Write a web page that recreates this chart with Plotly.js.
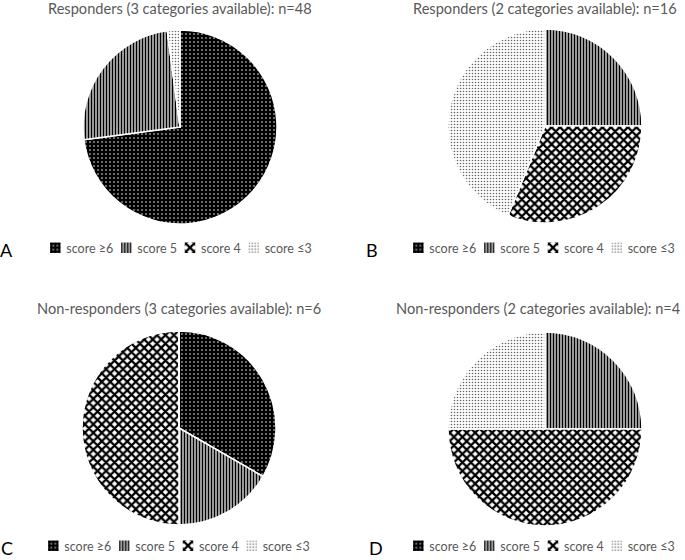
<!DOCTYPE html>
<html><head><meta charset="utf-8">
<script src="https://cdn.plot.ly/plotly-3.0.1.min.js"></script>
<style>html,body{margin:0;padding:0;background:#fff}</style>
</head><body><div id="chart" style="width:685px;height:560px"></div>
<script>
const categories = ['score \u22656', 'score 5', 'score 4', 'score \u22643'];
const responders3 = [35, 12, 0, 1];
const responders2 = [0, 4, 5, 7];
const nonResponders3 = [2, 1, 3, 0];
const nonResponders2 = [0, 1, 2, 1];
const panelTitles = [
  'Responders (3 categories available): n=48',
  'Responders (2 categories available): n=16',
  'Non-responders (3 categories available): n=6',
  'Non-responders (2 categories available): n=4'
];
const panelLetters = ['A', 'B', 'C', 'D'];

const patShape = ['.', '|', 'x', '.'];
const patBg = ['#000000', '#ffffff', '#ffffff', '#ffffff'];
const patFg = ['#ffffff', '#000000', '#000000', '#666666'];
const patSize = [4, 3, 6, 3];
const patSolid = [0.12, 0.6, 0.6, 0.22];

const values = [responders3, responders2, nonResponders3, nonResponders2];
const domains = [
  {x: [0.1212, 0.4044], y: [0.600, 0.9464]},
  {x: [0.6540, 0.9372], y: [0.6018, 0.9482]},
  {x: [0.1197, 0.4029], y: [0.0625, 0.4089]},
  {x: [0.6540, 0.9372], y: [0.0607, 0.4071]}
];
const legendNames = ['legend', 'legend2', 'legend3', 'legend4'];

const traces = values.map((v, k) => ({
  type: 'pie',
  labels: categories,
  values: v,
  sort: false,
  direction: 'clockwise',
  rotation: 0,
  textinfo: 'none',
  hoverinfo: 'label+value+percent',
  domain: domains[k],
  legend: legendNames[k],
  legendgroup: 'g' + k,
  showlegend: true,
  marker: {
    colors: patBg,
    line: {color: '#ffffff', width: 1.5},
    pattern: {shape: patShape, bgcolor: patBg, fgcolor: patFg, size: patSize, solidity: patSolid, fillmode: 'replace'}
  }
}));

const grey = '#595959';
const fam = 'Lato, "Open Sans", sans-serif';
const titleFont = {family: fam, size: 14.6, color: grey};
const titlePos = [[180, 9], [545, 9], [179, 308], [538, 308]];
const letterPos = [[6, 250], [372, 250], [7, 548], [376, 548]];
const annotations = [];
panelTitles.forEach((t, k) => annotations.push({
  text: t, xref: 'paper', yref: 'paper', x: titlePos[k][0] / 685, y: 1 - titlePos[k][1] / 560,
  xanchor: 'center', yanchor: 'middle', showarrow: false, font: titleFont
}));
panelLetters.forEach((t, k) => annotations.push({
  text: t, xref: 'paper', yref: 'paper', x: letterPos[k][0] / 685, y: 1 - letterPos[k][1] / 560,
  xanchor: 'center', yanchor: 'middle', showarrow: false,
  font: {family: fam, size: 18, color: '#000'}
}));

const legendFont = {family: fam, size: 12.5, color: grey};
const legendPos = [[180, 248], [543, 248], [178, 546], [543, 546]];
const layout = {
  width: 685, height: 560,
  margin: {l: 0, r: 0, t: 0, b: 0, pad: 0, autoexpand: false},
  paper_bgcolor: '#ffffff',
  annotations: annotations
};
legendNames.forEach((n, k) => {
  layout[n] = {
    orientation: 'h', x: legendPos[k][0] / 685, y: 1 - legendPos[k][1] / 560,
    xanchor: 'center', yanchor: 'middle', font: legendFont, itemwidth: 30,
    traceorder: 'normal', bgcolor: 'rgba(0,0,0,0)', itemclick: false, itemdoubleclick: false
  };
});

// compact legend look (swatch close to its label, as in the original figure)
function compactLegends() {
  const chart = document.getElementById('chart');
  const items = Array.from(chart.querySelectorAll('g.traces')).filter(it => it.querySelector('text'));
  const groups = new Map();
  items.forEach(it => {
    const p = it.parentNode;
    if (!groups.has(p)) groups.set(p, []);
    groups.get(p).push(it);
  });
  groups.forEach((list, parent) => {
    try {
      let a = parent;
      while (a && a.tagName && a.tagName.toLowerCase() !== 'svg') {
        if (a.getAttribute && a.getAttribute('clip-path')) a.removeAttribute('clip-path');
        a = a.parentNode;
      }
      const r = list[0].getBoundingClientRect();
      const cy = r.top + r.height / 2;
      const rx = parent.getBoundingClientRect();
      const cxg = rx.left + rx.width / 2;
      let best = 0, bestD = 1e9;
      legendPos.forEach((p, k) => {
        const d = Math.abs(p[1] - cy) * 3 + Math.abs(p[0] - cxg);
        if (d < bestD) { bestD = d; best = k; }
      });
      const ctm = parent.getScreenCTM();
      if (!ctm) return;
      const targetLocal = (legendPos[best][0] - ctm.e) / ctm.a;
      const parseT = el => {
        const m = /translate\(\s*([-\d.e]+)[ ,]+([-\d.e]+)/.exec(el.getAttribute('transform') || '');
        return m ? [parseFloat(m[1]), parseFloat(m[2])] : [0, 0];
      };
      const lens = list.map(it => it.querySelector('text').getComputedTextLength());
      const symW = 7, gapTxt = 4, gapItem = 6;
      const widths = lens.map(l => 2 * symW + gapTxt + l + gapItem);
      const total = widths.reduce((s, b) => s + b, 0) - gapItem;
      let x = targetLocal - total / 2;
      list.forEach((it, i) => {
        const p = parseT(it);
        const tr = 'translate(' + (x - 20 + symW).toFixed(2) + ',' + p[1] + ')';
        if (it.getAttribute('transform') !== tr) it.setAttribute('transform', tr);
        const t = it.querySelector('text');
        const nx = String(20 + symW + gapTxt);
        if (t.getAttribute('x') !== nx) t.setAttribute('x', nx);
        t.querySelectorAll('tspan').forEach(s => { if (s.hasAttribute('x') && s.getAttribute('x') !== nx) s.setAttribute('x', nx); });
        it.querySelectorAll('path[class$="pie"]').forEach(pp => { if (pp.getAttribute('d') !== 'M7,7H-7V-7H7Z') pp.setAttribute('d', 'M7,7H-7V-7H7Z'); });
        x += widths[i];
      });
    } catch (e) {}
  });
}

const gd = document.getElementById('chart');
let busy = false;
const obs = new MutationObserver(() => {
  if (busy) return;
  busy = true;
  try { compactLegends(); } catch (e) {}
  obs.takeRecords();
  busy = false;
});
obs.observe(gd, {subtree: true, childList: true, attributes: true, attributeFilter: ['transform', 'x', 'clip-path', 'd']});
Plotly.newPlot(gd, traces, layout, {displayModeBar: false, staticPlot: true}).then(() => {
  compactLegends();
  obs.takeRecords();
  requestAnimationFrame(() => { compactLegends(); obs.takeRecords(); });
});
</script>
</body></html>
